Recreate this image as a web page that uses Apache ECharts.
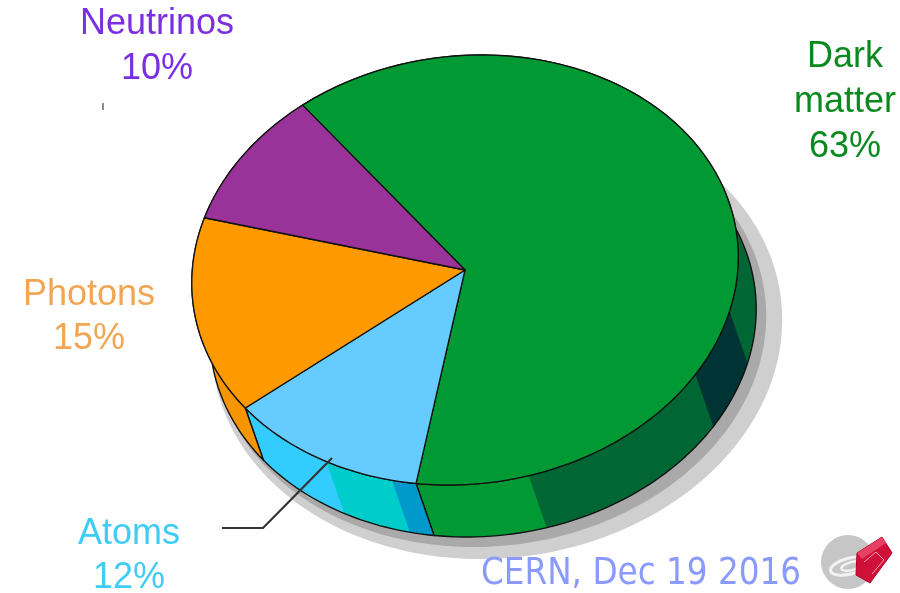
<!DOCTYPE html>
<html>
<head>
<meta charset="utf-8">
<script src="https://cdn.jsdelivr.net/npm/echarts@6/dist/echarts.min.js"></script>
<style>
  html, body { margin: 0; padding: 0; background: #ffffff; }
  #chart { width: 900px; height: 593px; }
</style>
</head>
<body>
<div id="chart"></div>
<script>
// Composition of the universe (share of total, %)
const categories = ['Dark matter', 'Atoms', 'Photons', 'Neutrinos'];
const shares = [63, 12, 15, 10];
const nameLines = [['Dark', 'matter'], ['Atoms'], ['Photons'], ['Neutrinos']];
const footer = 'CERN, Dec 19 2016';

// Appearance
const topColors = ['#009933', '#66ccff', '#ff9900', '#993399'];
const sideColors = ['#006633', '#00cccc', '#f59500', '#7a2a7a'];
const labelColors = ['#0a8a1e', '#3fcdf5', '#f2a553', '#7b2ee3'];
// flat shading patches on the rim, in rim angle (degrees, clockwise from east)
const sidePatches = [
  [[20, 38, '#003333'], [82, 130, '#009933']],
  [[96, 111, '#0099cc'], [126, 170, '#33ccff']],
  [],
  []
];

// Tilted elliptical disc
const PIE = { cx: 465, cy: 270, rx: 274, ry: 214, tilt: -7, start: 239, depthX: 18, depthY: 52 };
const TILT = PIE.tilt * Math.PI / 180;

const total = shares.reduce((a, b) => a + b, 0);
const startAngles = [];
shares.reduce((acc, v, i) => { startAngles[i] = acc; return acc + v / total * 360; }, PIE.start);

function ell(t, o) {
  o = o || {};
  const r = t * Math.PI / 180;
  const a = PIE.rx + (o.ga || 0), b = PIE.ry + (o.gb || 0);
  const u = a * Math.cos(r), v = b * Math.sin(r);
  const c = Math.cos(TILT), s = Math.sin(TILT);
  return [PIE.cx + (o.dx || 0) + u * c - v * s, PIE.cy + (o.dy || 0) + u * s + v * c];
}
function arc(t0, t1, o) {
  const n = Math.max(2, Math.ceil(Math.abs(t1 - t0) / 1.5));
  const pts = [];
  for (let k = 0; k <= n; k++) pts.push(ell(t0 + (t1 - t0) * k / n, o));
  return pts;
}
const bottom = { dx: PIE.depthX, dy: PIE.depthY };
function rim(t0, t1) {
  return arc(t0, t1).concat(arc(t1, t0, bottom));
}
function sliceRange(i, value) {
  const a0 = startAngles[i];
  return [a0, a0 + value / total * 360];
}

const chart = echarts.init(document.getElementById('chart'), null, { renderer: 'canvas' });

const seriesData = shares.map((v, i) => ({ name: categories[i], value: v }));

const option = {
  animation: false,
  backgroundColor: '#ffffff',
  series: [
    {
      // drop shadow under the disc
      type: 'custom',
      coordinateSystem: 'none',
      silent: true,
      z: 1,
      data: [[total]],
      renderItem: function () {
        return {
          type: 'group',
          children: [
            { type: 'polygon', shape: { points: arc(0, 360, { dx: 32, dy: 63, ga: 12, gb: 11 }) },
              style: { fill: '#cfcfcf' } },
            { type: 'polygon', shape: { points: arc(0, 360, { dx: 25, dy: 59, ga: 3, gb: 3 }) },
              style: { fill: '#a9a9a9' } }
          ]
        };
      }
    },
    {
      // rim of the disc
      type: 'custom',
      coordinateSystem: 'none',
      silent: true,
      z: 2,
      data: seriesData,
      renderItem: function (params, api) {
        const i = params.dataIndex;
        const [a0, a1] = sliceRange(i, api.value(0));
        const children = [
          { type: 'polygon', shape: { points: rim(a0, a1) }, style: { fill: sideColors[i] } }
        ];
        sidePatches[i].forEach(function (p) {
          for (let k = -1; k <= 2; k++) {
            const f = Math.max(p[0] + 360 * k, a0), t = Math.min(p[1] + 360 * k, a1);
            if (t > f) children.push({ type: 'polygon', shape: { points: rim(f, t) }, style: { fill: p[2] } });
          }
        });
        children.push({ type: 'polygon', shape: { points: rim(a0, a1) },
          style: { fill: 'none', stroke: '#111111', lineWidth: 1.4, lineJoin: 'round' } });
        return { type: 'group', children: children };
      }
    },
    {
      // top face slices
      type: 'custom',
      coordinateSystem: 'none',
      silent: true,
      z: 3,
      data: seriesData,
      renderItem: function (params, api) {
        const i = params.dataIndex;
        const [a0, a1] = sliceRange(i, api.value(0));
        const pts = [[PIE.cx, PIE.cy]].concat(arc(a0, a1));
        return {
          type: 'polygon',
          shape: { points: pts },
          style: { fill: topColors[i], stroke: '#111111', lineWidth: 1.3, lineJoin: 'round' }
        };
      }
    }
  ],
  graphic: []
};

// Slice labels
const FONT = '"Liberation Sans", Arial, sans-serif';
const labelPos = [
  { x: 845, baselines: [70, 115, 160] },
  { x: 129, baselines: [547, 591] },
  { x: 89, baselines: [308, 352] },
  { x: 157, baselines: [37, 82] }
];
categories.forEach(function (c, i) {
  const lines = nameLines[i].concat([shares[i] + '%']);
  lines.forEach(function (txt, k) {
    option.graphic.push({
      type: 'text', silent: true, z: 10,
      x: labelPos[i].x, y: labelPos[i].baselines[k] - 13,
      style: { text: txt, fill: labelColors[i], font: '36px ' + FONT, align: 'center', verticalAlign: 'middle' }
    });
  });
});

// leader line for the Atoms label, and a stray tick near Neutrinos
option.graphic.push({
  type: 'polyline', silent: true, z: 10,
  shape: { points: [[332, 458], [263, 528], [222, 528]] },
  style: { stroke: '#333333', lineWidth: 2.2, fill: 'none' }
});
option.graphic.push({
  type: 'line', silent: true, z: 10,
  shape: { x1: 103, y1: 103, x2: 103, y2: 110 },
  style: { stroke: '#666666', lineWidth: 1.5 }
});

// footer
option.graphic.push({
  type: 'text', silent: true, z: 10,
  x: 481, y: 574, scaleX: 0.86,
  style: { text: footer, fill: '#8a9aff', font: '38px "DejaVu Sans", Verdana, sans-serif',
           align: 'left', verticalAlign: 'middle' }
});

// small emblem in the corner
option.graphic.push({
  type: 'group', silent: true, z: 10,
  children: [
    { type: 'circle', shape: { cx: 848, cy: 562, r: 27 }, style: { fill: '#c6c6c6' } },
    { type: 'ellipse', shape: { cx: 850, cy: 566, rx: 20, ry: 8 }, rotation: 0.25, originX: 850, originY: 566,
      style: { fill: 'none', stroke: '#f2f2f2', lineWidth: 3 } },
    { type: 'ellipse', shape: { cx: 852, cy: 566, rx: 11, ry: 4 }, rotation: 0.25, originX: 852, originY: 566,
      style: { fill: 'none', stroke: '#f2f2f2', lineWidth: 2.5 } },
    { type: 'polygon', shape: { points: [[857, 553], [882, 537], [892, 553], [870, 583], [856, 575]] },
      style: { fill: '#cf1038', stroke: '#b0002a', lineWidth: 1 } },
    { type: 'polygon', shape: { points: [[857, 553], [882, 537], [886, 543], [862, 559]] },
      style: { fill: '#e84064' } },
    { type: 'polyline', shape: { points: [[864, 562], [876, 552], [884, 560], [872, 574]] },
      style: { fill: 'none', stroke: '#f7a0b4', lineWidth: 1 } }
  ]
});

chart.setOption(option);
</script>
</body>
</html>
